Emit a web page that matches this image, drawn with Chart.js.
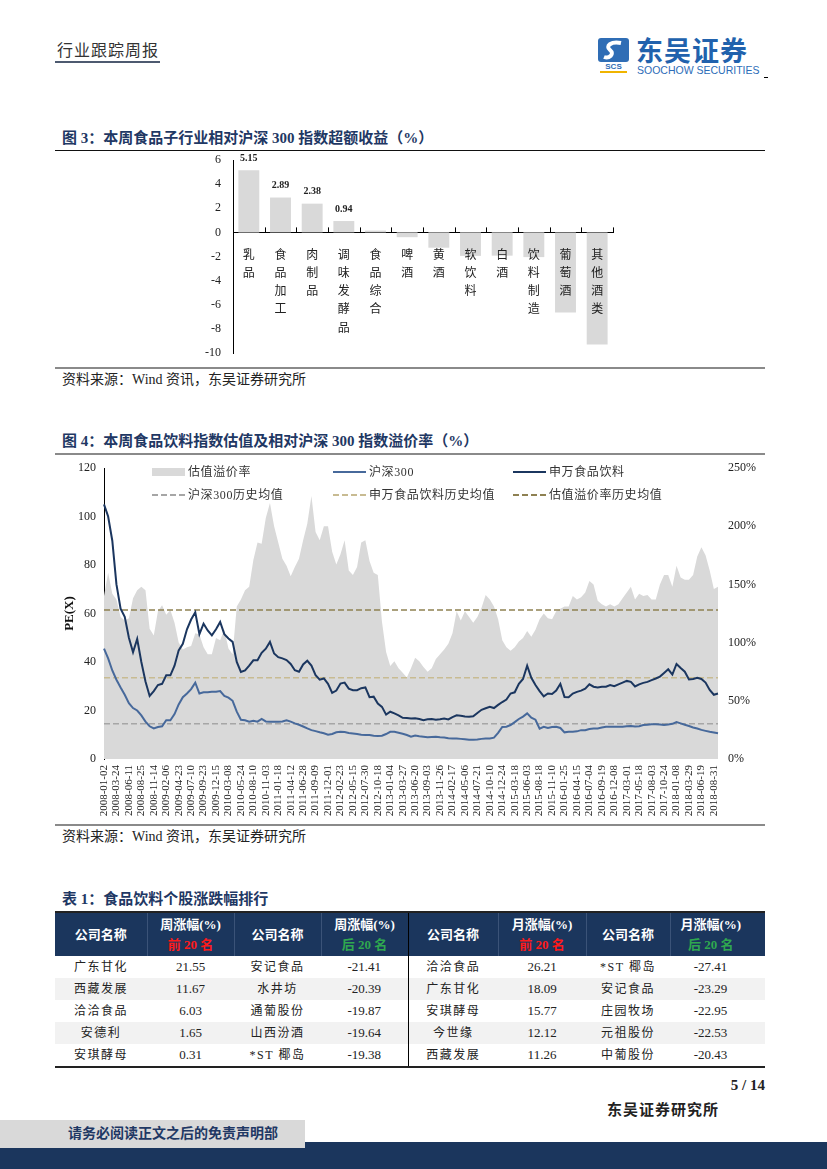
<!DOCTYPE html>
<html>
<head>
<meta charset="utf-8">
<script src="https://cdn.jsdelivr.net/npm/chart.js@4.4.1/dist/chart.umd.min.js"></script>
<style>
body{margin:0;background:#fff;}
#page{position:relative;width:827px;height:1169px;overflow:hidden;font-family:"Liberation Serif","Noto Sans CJK SC",serif;color:#222;}
.abs{position:absolute;white-space:nowrap;}
.figtitle{position:absolute;left:62px;font-size:15px;font-weight:bold;color:#1f3864;white-space:nowrap;line-height:18px;}
.src{position:absolute;left:62px;font-size:14px;color:#222;white-space:nowrap;line-height:18px;}
.leg{position:absolute;font-size:12px;letter-spacing:0.6px;color:#333;line-height:16px;white-space:nowrap;}
.sw{position:absolute;}
table{position:absolute;left:55px;top:911px;width:710px;border-collapse:collapse;table-layout:fixed;border-top:2px solid #222;border-bottom:2px solid #222;}
th{background:#1b365d;color:#fff;font-weight:bold;font-size:13px;height:43px;padding:0;line-height:20px;border-left:1px solid #3b5378;}
th:first-child{border-left:none;}
td{height:22px;padding:0;text-align:center;font-size:13px;line-height:22px;}
td.nm{font-size:12px;letter-spacing:1.5px;}
tbody tr:nth-child(even) td{background:#f2f2f2;}
td.dv,th.dv{border-left:1px solid #000;}
.red{color:#ff1a1a;}
.grn{color:#2fa84f;}
</style>
</head>
<body>
<div id="page">
  <!-- header -->
  <div class="abs" style="left:57px;top:42px;font-size:16px;letter-spacing:1px;color:#333;line-height:18px;">行业跟踪周报</div>
  <div class="abs" style="left:55px;top:61px;width:105px;height:2px;background:#4d5a70;"></div>
  <svg class="abs" style="left:597px;top:37px;" width="34" height="38" viewBox="0 0 34 38">
    <rect x="1" y="1" width="31" height="24" rx="3" fill="#2f6db5"/>
    <path d="M24 6 C14 4 8 9 13 13 C18 17 12 22 7 20" stroke="#fff" stroke-width="4" fill="none"/>
    <text x="16.5" y="32" font-size="8" font-weight="bold" fill="#2f6db5" text-anchor="middle" font-family="Liberation Sans">SCS</text>
    <rect x="3" y="34" width="27" height="2" fill="#f0b400"/>
  </svg>
  <div class="abs" style="left:636px;top:35px;font-size:27px;font-weight:bold;color:#2162ad;letter-spacing:1px;line-height:30px;font-family:'Noto Sans CJK SC';">东吴证券</div>
  <div class="abs" style="left:637px;top:64px;font-size:10.5px;color:#2c6cb8;line-height:12px;font-family:'Liberation Sans';">SOOCHOW SECURITIES</div>
  <div class="abs" style="left:764px;top:77px;width:4px;height:1px;background:#000;"></div>

  <!-- figure 3 -->
  <div class="figtitle" style="top:129px;">图 3：本周食品子行业相对沪深 300 指数超额收益（%）</div>
  <div class="abs" style="left:55px;top:150px;width:710px;height:1px;background:#111;"></div>
  <div class="abs" style="left:193px;top:150px;width:425px;height:215px;"><canvas id="c1"></canvas></div>
  <div class="abs" style="left:55px;top:367px;width:710px;height:2px;background:#8a8a8a;"></div>
  <div class="src" style="top:371px;">资料来源：Wind 资讯，东吴证券研究所</div>

  <!-- figure 4 -->
  <div class="figtitle" style="top:432px;">图 4：本周食品饮料指数估值及相对沪深 300 指数溢价率（%）</div>
  <div class="abs" style="left:55px;top:453px;width:710px;height:2px;background:#8a8a8a;"></div>
  <div class="abs" style="left:54px;top:460px;width:709px;height:361px;"><canvas id="c2"></canvas></div>
  <div id="legend2"></div>
  <div class="abs" style="left:55px;top:824px;width:710px;height:2px;background:#8a8a8a;"></div>
  <div class="src" style="top:828px;">资料来源：Wind 资讯，东吴证券研究所</div>

  <!-- table 1 -->
  <div class="figtitle" style="top:890px;">表 1：食品饮料个股涨跌幅排行</div>
  <table id="tbl">
    <colgroup>
      <col style="width:92px"><col style="width:87px"><col style="width:87px"><col style="width:87px">
      <col style="width:90px"><col style="width:88px"><col style="width:84px"><col style="width:95px">
    </colgroup>
    <thead>
      <tr>
        <th>公司名称</th><th>周涨幅(%)<br><span class="red">前 20 名</span></th>
        <th>公司名称</th><th>周涨幅(%)<br><span class="grn">后 20 名</span></th>
        <th class="dv">公司名称</th><th>月涨幅(%)<br><span class="red">前 20 名</span></th>
        <th>公司名称</th><th style="padding-right:14px;">月涨幅(%)<br><span class="grn">后 20 名</span></th>
      </tr>
    </thead>
    <tbody id="tbody"></tbody>
  </table>

  <!-- footer -->
  <div class="abs" style="left:700px;width:65px;top:1076px;text-align:right;font-size:15px;font-weight:bold;line-height:18px;">5 / 14</div>
  <div class="abs" style="left:607px;top:1101px;font-size:15px;font-weight:bold;letter-spacing:1px;line-height:18px;">东吴证券研究所</div>
  <div class="abs" style="left:0;top:1142px;width:827px;height:27px;background:#1b365d;"></div>
  <div class="abs" style="left:0;top:1120px;width:305px;height:28px;background:#d9d9d9;"></div>
  <div class="abs" style="left:68px;top:1125px;font-size:14px;font-weight:bold;color:#1f3864;line-height:18px;">请务必阅读正文之后的免责声明部</div>
</div>

<script>
var CJK = '"Liberation Serif", "Noto Sans CJK SC"';

//////////////////
// 图3 子行业超额收益

var subCats = ['乳品','食品加工','肉制品','调味发酵品','食品综合','啤酒','黄酒','软饮料','白酒','饮料制造','葡萄酒','其他酒类'];
var excessReturn = [5.15, 2.89, 2.38, 0.94, 0.15, -0.40, -1.27, -1.95, -1.93, -2.05, -6.65, -9.30];

var barLabels = {
  id: 'barLabels',
  afterDatasetsDraw: function(chart) {
    var ctx = chart.ctx;
    var meta = chart.getDatasetMeta(0);
    ctx.save();
    ctx.font = 'bold 10px "Liberation Serif"';
    ctx.fillStyle = '#222';
    ctx.textAlign = 'center';
    ctx.textBaseline = 'middle';
    meta.data.forEach(function(bar, i) {
      if (excessReturn[i] > 0.5) ctx.fillText(excessReturn[i].toFixed(2), bar.x, bar.y - 12);
    });
    ctx.restore();
  },
  // small upward tick marks between categories on the zero line
  afterDraw: function(chart) {
    var ctx = chart.ctx, xs = chart.scales.x, ys = chart.scales.y;
    var y0 = ys.getPixelForValue(0);
    var half = (xs.getPixelForValue(1) - xs.getPixelForValue(0)) / 2;
    ctx.save();
    ctx.strokeStyle = '#000';
    ctx.lineWidth = 1;
    ctx.beginPath();
    for (var i = 0; i < subCats.length; i++) {
      var x = Math.round(xs.getPixelForValue(i) + half) + 0.5;
      ctx.moveTo(x, y0);
      ctx.lineTo(x, y0 - 5);
    }
    ctx.stroke();
    ctx.restore();
  }
};

new Chart(document.getElementById('c1').getContext('2d'), {
  type: 'bar',
  data: {
    labels: subCats.map(function(s) { return s.split(''); }),
    datasets: [{
      data: excessReturn,
      backgroundColor: '#d9d9d9',
      barPercentage: 0.66,
      categoryPercentage: 1
    }]
  },
  options: {
    responsive: true,
    maintainAspectRatio: false,
    animation: false,
    layout: { padding: { top: 0, right: 5, bottom: 0, left: 0 } },
    plugins: { legend: { display: false }, tooltip: { enabled: false } },
    scales: {
      x: {
        position: { y: 0 },
        grid: { display: false, drawTicks: false },
        border: { color: '#000', width: 1 },
        ticks: { z: 1, autoSkip: false, maxRotation: 0, padding: 14, color: '#222', font: { family: CJK, size: 12, lineHeight: 1.52 } }
      },
      y: {
        min: -10,
        max: 6,
        grid: { display: false, drawTicks: false },
        border: { color: '#000', width: 1 },
        ticks: { stepSize: 2, padding: 12, color: '#222', font: { family: CJK, size: 12 } },
        afterFit: function(s) { s.width = 40; s.paddingTop = 10; s.paddingBottom = 12; }
      }
    }
  },
  plugins: [barLabels]
});

//////////////////
// 图4 估值及溢价率

var dateTicks = ['2008-01-02','2008-03-24','2008-06-11','2008-08-25','2008-11-14','2009-02-06','2009-04-23','2009-07-10','2009-09-23','2009-12-15',
  '2010-03-08','2010-05-24','2010-08-10','2010-11-03','2011-01-18','2011-04-12','2011-06-28','2011-09-09','2011-12-01','2012-02-23',
  '2012-05-15','2012-07-30','2012-10-18','2013-01-04','2013-03-27','2013-06-20','2013-09-03','2013-11-26','2014-02-17','2014-05-06',
  '2014-07-21','2014-10-10','2014-12-24','2015-03-18','2015-06-03','2015-08-18','2015-11-10','2016-01-25','2016-04-15','2016-07-04',
  '2016-09-19','2016-12-08','2017-03-01','2017-05-18','2017-08-03','2017-10-24','2018-01-08','2018-03-29','2018-06-19','2018-08-31'];

// 申万食品饮料 PE
var foodPE = [105,100,90,72,62,58.6,50,44,49.5,40,
  32,26,28,30.5,31,34.5,34.5,38.5,44.8,47.5,
  53.5,57.5,60.5,51.5,55.8,53,51,53.5,56.5,51.5,
  49.7,48.3,40,35.9,36.5,38.5,40.7,40.7,43.8,45.5,
  48.3,43.5,42,41.5,40.8,39.2,36.6,36,39,40.5,
  38.5,34.6,32.7,33.2,31,27.3,28.2,31.1,31.5,29,
  28.4,28.4,29.2,29.5,25.5,25.7,22.9,21.5,18.3,19.5,
  18.8,18,17,16.9,16.7,16.8,16.5,16,16.4,16.5,
  16.2,16.4,16.7,16.3,17.3,18,17.8,17.5,17.4,17.6,
  19,20.3,20.9,21.5,21,22.3,23.5,24.5,27,27.5,
  31,33,38.5,33.5,30.5,28,25.8,27,26.8,28.2,
  31,25.6,25.5,27,27.7,28.2,29,30.8,29.8,29.5,
  29.8,29.8,30.5,30,30.8,31.5,32.2,31.8,29.9,30.8,
  31.4,31.8,32.5,33.2,34,35.5,37,34.8,39.2,37.5,
  36,32.8,33,33.5,33,31.5,28.5,26.5,27];

// 沪深300 PE
var hs300PE = [45.5,41.5,36.5,32.7,29.5,26.5,23,21,20,18,
  15.4,13.5,12.6,13.2,13.5,16,16,18.5,22.5,25.5,
  27,28.8,31.5,27,27.5,27.5,27.7,27.7,28,26,
  25.3,24,19.5,16.2,16,15.4,15.8,15.4,16.5,15.5,
  15.4,15.4,15.4,15.5,16,15.4,14.7,14.1,13.4,12.6,
  11.9,11.5,11,10.6,10,10.3,11,11.2,11.1,10.7,
  10.5,10.3,10,9.9,9.9,9.6,9.5,9.6,10.3,11.2,
  11.2,10.8,10.4,9.9,9.2,9.7,9.4,9.2,9,9.1,
  9.2,9,8.9,8.6,8.5,8.5,8.3,8.1,7.9,7.9,
  8,8.3,8.5,8.5,8.8,10.8,13.2,13.3,14,15.2,
  16.5,17.5,18.8,17,16.2,12.5,13.3,12.8,13.2,13.3,
  12.8,11,11.2,11.2,11.4,11.9,11.9,12.4,12.6,12.6,
  13,13.3,13.3,13.3,13.3,13.3,13.5,13.6,13.4,13.5,
  14,14.1,14.3,14.3,14.2,14,14.2,14.5,15.2,14.7,
  14.1,13.6,13,12.6,12,11.6,11.2,10.9,10.6];

// 估值溢价率 (%)
var premium = [140,160,142,137,122,119,121,138,145,148,
  145,112,106,127,132,124,128,117,100,94,
  96,97,108,107,96,90,90,104,102,111,
  95,90,131,137,145,148,171,186,185,207,
  220,200,186,172,166,157,165,172,188,202,
  226,195,188,200,200,178,167,176,188,162,
  158,165,186,188,170,160,158,118,92,80,
  84,78,74,70,78,87,84,79,75,78,
  86,90,94,99,108,127,119,127,122,117,
  122,130,141,137,131,120,102,96,93,96,
  101,104,110,105,111,120,125,121,120,127,
  129,131,131,140,137,139,143,153,150,136,
  133,131,133,131,133,138,143,148,137,142,
  140,141,137,137,150,158,158,148,166,156,
  154,154,158,174,182,175,162,146,148];

var hs300Mean = 14.5;
var foodMean = 33.5;
var premiumMean = 128;

var colFood = '#1b365f';
var colHs = '#47699b';
var colPrem = '#d9d9d9';
var colHsMean = '#a6a6a6';
var colFoodMean = '#c8bb92';
var colPremMean = '#8e8152';

var labels2 = foodPE.map(function(v, i) { return i % 3 === 0 ? (dateTicks[i / 3] || '') : ''; });

new Chart(document.getElementById('c2').getContext('2d'), {
  type: 'line',
  data: {
    labels: labels2,
    datasets: [
      { label: '申万食品饮料', data: foodPE, borderColor: colFood, borderWidth: 2, pointRadius: 0, yAxisID: 'y', order: 0 },
      { label: '沪深300', data: hs300PE, borderColor: colHs, borderWidth: 2, pointRadius: 0, yAxisID: 'y', order: 1 },
      { label: '沪深300历史均值', data: foodPE.map(function() { return hs300Mean; }), borderColor: colHsMean, borderWidth: 1.5, borderDash: [6, 3], pointRadius: 0, yAxisID: 'y', order: 2 },
      { label: '申万食品饮料历史均值', data: foodPE.map(function() { return foodMean; }), borderColor: colFoodMean, borderWidth: 1.5, borderDash: [6, 3], pointRadius: 0, yAxisID: 'y', order: 2 },
      { label: '估值溢价率历史均值', data: foodPE.map(function() { return premiumMean; }), borderColor: colPremMean, borderWidth: 1.5, borderDash: [6, 3], pointRadius: 0, yAxisID: 'y1', order: 2 },
      { label: '估值溢价率', data: premium, borderWidth: 0, borderColor: colPrem, backgroundColor: colPrem, fill: 'origin', pointRadius: 0, yAxisID: 'y1', order: 5 }
    ]
  },
  options: {
    responsive: true,
    maintainAspectRatio: false,
    animation: false,
    layout: { padding: 0 },
    plugins: { legend: { display: false }, tooltip: { enabled: false } },
    scales: {
      x: {
        grid: { display: false, drawTicks: false },
        border: { display: false },
        ticks: { autoSkip: false, minRotation: 90, maxRotation: 90, padding: 6, color: '#222', font: { family: CJK, size: 11 } },
        afterFit: function(s) { s.height = 62; }
      },
      y: {
        position: 'left',
        min: 0,
        max: 120,
        grid: { display: false, drawTicks: false },
        border: { color: '#000', width: 1 },
        ticks: { stepSize: 20, padding: 8, color: '#222', font: { family: CJK, size: 12 } },
        title: { display: true, text: 'PE(X)', color: '#111', padding: { top: 8, bottom: 0 }, font: { family: CJK, size: 13, weight: 'bold' } },
        afterFit: function(s) { s.width = 50; s.paddingTop = 8; s.paddingBottom = 0; }
      },
      y1: {
        position: 'right',
        min: 0,
        max: 250,
        grid: { display: false, drawTicks: false },
        border: { display: false },
        ticks: { stepSize: 50, padding: 10, color: '#222', font: { family: CJK, size: 12 }, callback: function(v) { return v + '%'; } },
        afterFit: function(s) { s.width = 45; s.paddingTop = 8; s.paddingBottom = 0; }
      }
    }
  }
});

// legend (two rows, three columns inside plot)
var legendItems = [
  { text: '估值溢价率', kind: 'box', color: colPrem, x: 152, y: 472 },
  { text: '沪深300', kind: 'line', color: colHs, x: 333, y: 472 },
  { text: '申万食品饮料', kind: 'line', color: colFood, x: 513, y: 472 },
  { text: '沪深300历史均值', kind: 'dash', color: colHsMean, x: 152, y: 495 },
  { text: '申万食品饮料历史均值', kind: 'dash', color: colFoodMean, x: 333, y: 495 },
  { text: '估值溢价率历史均值', kind: 'dash', color: colPremMean, x: 513, y: 495 }
];
var legHtml = '';
legendItems.forEach(function(it) {
  var sw;
  if (it.kind === 'box') sw = 'left:' + it.x + 'px;top:' + (it.y - 4) + 'px;width:33px;height:8px;background:' + it.color + ';';
  else if (it.kind === 'line') sw = 'left:' + it.x + 'px;top:' + (it.y - 1) + 'px;width:33px;height:2px;background:' + it.color + ';';
  else sw = 'left:' + it.x + 'px;top:' + (it.y - 1) + 'px;width:33px;height:2px;background:repeating-linear-gradient(90deg,' + it.color + ' 0 6px,transparent 6px 9px);';
  legHtml += '<div class="sw" style="' + sw + '"></div>';
  legHtml += '<div class="leg" style="left:' + (it.x + 36) + 'px;top:' + (it.y - 8) + 'px;">' + it.text + '</div>';
});
document.getElementById('legend2').innerHTML = legHtml;

//////////////////
// 表1 个股涨跌幅排行

var weekTopNames = ['广东甘化','西藏发展','洽洽食品','安德利','安琪酵母'];
var weekTopVals = ['21.55','11.67','6.03','1.65','0.31'];
var weekBottomNames = ['安记食品','水井坊','通葡股份','山西汾酒','*ST 椰岛'];
var weekBottomVals = ['-21.41','-20.39','-19.87','-19.64','-19.38'];
var monthTopNames = ['洽洽食品','广东甘化','安琪酵母','今世缘','西藏发展'];
var monthTopVals = ['26.21','18.09','15.77','12.12','11.26'];
var monthBottomNames = ['*ST 椰岛','安记食品','庄园牧场','元祖股份','中葡股份'];
var monthBottomVals = ['-27.41','-23.29','-22.95','-22.53','-20.43'];

var rows = '';
for (var r = 0; r < weekTopNames.length; r++) {
  rows += '<tr>' +
    '<td class="nm">' + weekTopNames[r] + '</td><td>' + weekTopVals[r] + '</td>' +
    '<td class="nm">' + weekBottomNames[r] + '</td><td>' + weekBottomVals[r] + '</td>' +
    '<td class="nm dv">' + monthTopNames[r] + '</td><td>' + monthTopVals[r] + '</td>' +
    '<td class="nm">' + monthBottomNames[r] + '</td><td style="padding-right:14px;">' + monthBottomVals[r] + '</td>' +
    '</tr>';
}
document.getElementById('tbody').innerHTML = rows;
</script>
</body>
</html>
